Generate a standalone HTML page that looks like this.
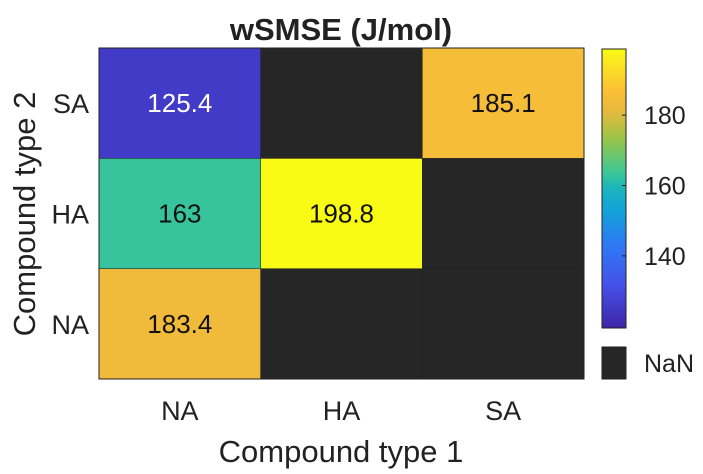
<!DOCTYPE html>
<html><head><meta charset="utf-8"><style>
body{margin:0;background:#fff;font-family:"Liberation Sans",Arial,sans-serif}
svg text{font-family:"Liberation Sans",Arial,sans-serif}
</style></head><body>
<svg width="703" height="469" viewBox="0 0 703 469">
<defs>
<linearGradient id="parula" x1="0" y1="1" x2="0" y2="0">
<stop offset="0" stop-color="#3e26a8"/><stop offset="0.15" stop-color="#4550e8"/>
<stop offset="0.3" stop-color="#2e7af5"/><stop offset="0.42" stop-color="#12a2d8"/>
<stop offset="0.5" stop-color="#1ab5bd"/><stop offset="0.56" stop-color="#3ec794"/>
<stop offset="0.68" stop-color="#9bc447"/><stop offset="0.78" stop-color="#e9b93c"/>
<stop offset="0.85" stop-color="#fbbf36"/><stop offset="1" stop-color="#f9fb15"/>
</linearGradient>
</defs>
<text x="341" y="40" text-anchor="middle" font-size="31" font-weight="bold" fill="#222">wSMSE (J/mol)</text>
<g id="cells"></g>
<rect x="99" y="48" width="485" height="331" fill="none" stroke="#222" stroke-width="1"/>
<g id="labels"></g>
<text x="341" y="462" text-anchor="middle" font-size="31" fill="#222">Compound type 1</text>
<text transform="translate(35,214) rotate(-90)" text-anchor="middle" font-size="31" fill="#222">Compound type 2</text>
<rect x="602" y="49" width="24" height="279" fill="url(#parula)" stroke="#222" stroke-width="1"/>
<g id="cbticks"></g>
<rect x="602" y="347" width="24" height="32" fill="#262626" stroke="#222"/>
<text x="644" y="372" font-size="25" fill="#222">NaN</text>
</svg>
<script>
const xCats=["NA","HA","SA"];
const yCats=["NA","HA","SA"];
// values[row][col], row 0 = NA (bottom)
const values=[[183.4,null,null],[163,198.8,null],[125.4,null,185.1]];
const cbTicks=[140,160,180];
const cmin=119.5,cmax=198.8;
const L=99,R=584,T=48,B=379,cbT=49,cbB=328;
const stops=[[0,0x3e,0x26,0xa8],[0.15,0x45,0x50,0xe8],[0.3,0x2e,0x7a,0xf5],[0.42,0x12,0xa2,0xd8],[0.5,0x1a,0xb5,0xbd],[0.56,0x3e,0xc7,0x94],[0.68,0x9b,0xc4,0x47],[0.78,0xe9,0xb9,0x3c],[0.85,0xfb,0xbf,0x36],[1,0xf9,0xfb,0x15]];
function color(v){const t=Math.max(0,Math.min(1,(v-cmin)/(cmax-cmin)));let i=0;while(i<stops.length-2&&t>stops[i+1][0])i++;const a=stops[i],b=stops[i+1],f=(t-a[0])/(b[0]-a[0]);const c=[1,2,3].map(k=>Math.round(a[k]+(b[k]-a[k])*f));return `rgb(${c})`;}
const ns="http://www.w3.org/2000/svg";
const cw=(R-L)/xCats.length,ch=(B-T)/yCats.length;
const xPos=i=>L+i*cw, yPos=j=>B-(j+1)*ch, cbY=v=>cbB-(v-cmin)/(cmax-cmin)*(cbB-cbT);
const cells=document.getElementById('cells'),labels=document.getElementById('labels'),cbt=document.getElementById('cbticks');
values.forEach((row,j)=>row.forEach((v,i)=>{
 const r=document.createElementNS(ns,'rect');
 
 
 r.setAttribute('x',xPos(i));r.setAttribute('y',yPos(j));r.setAttribute('width',cw);r.setAttribute('height',ch);
 r.setAttribute('fill',v==null?'#262626':color(v));r.setAttribute('stroke','#222');r.setAttribute('stroke-width','0.5');
 cells.appendChild(r);
 if(v!=null){const t=document.createElementNS(ns,'text');
 
 
 t.setAttribute('x',xPos(i)+cw/2);t.setAttribute('y',yPos(j)+ch/2+9);t.setAttribute('text-anchor','middle');t.setAttribute('font-size','26');
 t.setAttribute('fill',(v-cmin)/(cmax-cmin)<0.3?'#fff':'#111');t.textContent=String(v);cells.appendChild(t);}
}));
xCats.forEach((c,i)=>{const t=document.createElementNS(ns,'text');
 
 
 t.setAttribute('x',xPos(i)+cw/2);t.setAttribute('y',420);t.setAttribute('text-anchor','middle');t.setAttribute('font-size','27');t.setAttribute('fill','#222');t.textContent=c;labels.appendChild(t);});
yCats.forEach((c,j)=>{const t=document.createElementNS(ns,'text');
 
 
 t.setAttribute('x',89);t.setAttribute('y',yPos(j)+ch/2+10);t.setAttribute('text-anchor','end');t.setAttribute('font-size','27');t.setAttribute('fill','#222');t.textContent=c;labels.appendChild(t);});
cbTicks.forEach(v=>{const t=document.createElementNS(ns,'text');
 
 
 t.setAttribute('x',644);t.setAttribute('y',cbY(v)+9);t.setAttribute('font-size','25');t.setAttribute('fill','#222');t.textContent=v;cbt.appendChild(t);
 const l=document.createElementNS(ns,'line');
 
 
 l.setAttribute('x1',622);l.setAttribute('x2',626);l.setAttribute('y1',cbY(v));l.setAttribute('y2',cbY(v));l.setAttribute('stroke','#222');cbt.appendChild(l);});
</script>
</body></html>
